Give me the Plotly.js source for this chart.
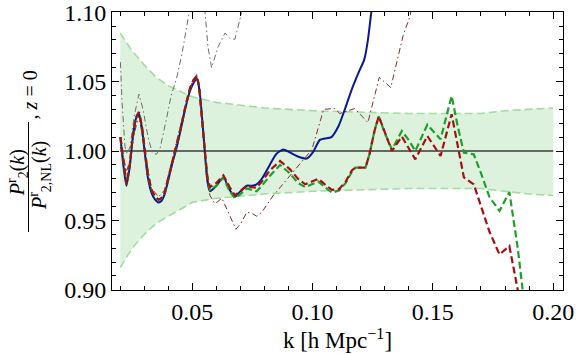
<!DOCTYPE html>
<html>
<head>
<meta charset="utf-8">
<script src="https://cdn.plot.ly/plotly-3.0.1.min.js"></script>
<style>
  html, body { margin: 0; padding: 0; background: #fff; }
  #visualisation { width: 576px; height: 354px; }
</style>
</head>
<body>
<div id='visualisation'></div>
<script>
// tick labels
const xTicks = [0.05, 0.10, 0.15, 0.20]
const yTicks = [0.90, 0.95, 1.00, 1.05, 1.10]

// error band (light green)
const kBand = [0.020, 0.025, 0.030, 0.035, 0.040, 0.050, 0.060, 0.080, 0.100, 0.120, 0.140, 0.160, 0.170, 0.180, 0.190, 0.200]
const bandUpper = [1.085, 1.072, 1.062, 1.053, 1.047, 1.039, 1.035, 1.031, 1.029, 1.028, 1.027, 1.027, 1.027, 1.029, 1.030, 1.031]
const bandLower = [0.916, 0.930, 0.940, 0.948, 0.953, 0.963, 0.966, 0.969, 0.971, 0.972, 0.973, 0.973, 0.973, 0.971, 0.969, 0.968]

// red and green dashed curves share one k grid
const kMain = [
  0.0201, 0.0213, 0.0226, 0.0240, 0.0252, 0.0265, 0.0278, 0.0290, 0.0302, 0.0315,
  0.0330, 0.0345, 0.0360, 0.0371, 0.0385, 0.0400, 0.0415, 0.0434, 0.0450, 0.0470,
  0.0490, 0.0505, 0.0518, 0.0528, 0.0540, 0.0552, 0.0562, 0.0573, 0.0600, 0.0629,
  0.0655, 0.0677, 0.0700, 0.0726, 0.0748, 0.0767, 0.0789, 0.0822, 0.0865, 0.0905,
  0.0939, 0.0969, 0.0997, 0.1024, 0.1051, 0.1080, 0.1109, 0.1138, 0.1163, 0.1178,
  0.1200, 0.1220, 0.1237, 0.1258, 0.1275, 0.1300, 0.1330, 0.1371, 0.1399, 0.1427,
  0.1477, 0.1532, 0.1578, 0.1603, 0.1629, 0.1670, 0.1700, 0.1735, 0.1777, 0.1818,
  0.1853, 0.1870, 0.1890
]
const redDashed = [
  1.010, 0.992, 0.976, 0.990, 1.010, 1.024, 1.028, 1.018, 1.000, 0.983,
  0.972, 0.967, 0.965, 0.966, 0.970, 0.980, 0.991, 1.003, 1.015, 1.031,
  1.045, 1.051, 1.054, 1.047, 1.026, 1.000, 0.982, 0.974, 0.977, 0.9825,
  0.974, 0.968, 0.971, 0.975, 0.974, 0.9736, 0.978, 0.986, 0.9928, 0.987,
  0.980, 0.976, 0.978, 0.980, 0.976, 0.972, 0.9724, 0.978, 0.986, 0.988,
  0.988, 0.988, 0.998, 1.015, 1.025, 1.013, 1.000, 1.0104, 1.002, 0.994,
  1.0108, 0.9964, 1.0265, 1.005, 0.981, 0.976, 0.960, 0.942, 0.9255, 0.9315,
  0.900, 0.880, 0.860
]
const greenDashed = [
  1.010, 0.992, 0.976, 0.990, 1.010, 1.024, 1.028, 1.018, 1.000, 0.983,
  0.972, 0.967, 0.965, 0.966, 0.970, 0.980, 0.991, 1.003, 1.015, 1.031,
  1.045, 1.051, 1.054, 1.047, 1.026, 1.000, 0.981, 0.972, 0.975, 0.981,
  0.971, 0.966, 0.969, 0.973, 0.972, 0.971, 0.975, 0.982, 0.9899, 0.984,
  0.977, 0.974, 0.976, 0.978, 0.974, 0.970, 0.9715, 0.977, 0.985, 0.988,
  0.988, 0.988, 0.998, 1.015, 1.025, 1.013, 1.001, 1.0144, 1.008, 1.000,
  1.019, 1.0084, 1.0397, 1.018, 0.9988, 0.9976, 0.984, 0.967, 0.9568, 0.9705,
  0.930, 0.906, 0.875
]

// blue solid curve
const kBlue = [
  0.0201, 0.0213, 0.0226, 0.0240, 0.0252, 0.0265, 0.0278, 0.0290, 0.0302, 0.0315,
  0.0330, 0.0345, 0.0360, 0.0371, 0.0385, 0.0400, 0.0415, 0.0434, 0.0450, 0.0470,
  0.0490, 0.0505, 0.0518, 0.0528, 0.0540, 0.0552, 0.0562, 0.0573, 0.0600, 0.0629,
  0.0655, 0.0677, 0.0700, 0.0726, 0.0748, 0.0767, 0.0789, 0.0822, 0.0850, 0.0878,
  0.0905, 0.0939, 0.0975, 0.1001, 0.1030, 0.1051, 0.1078, 0.1108, 0.1130, 0.1160,
  0.1190, 0.1215, 0.1230, 0.1244, 0.1255
]
const blueSolid = [
  1.010, 0.990, 0.975, 0.989, 1.009, 1.023, 1.027, 1.017, 0.999, 0.981,
  0.970, 0.965, 0.963, 0.964, 0.969, 0.979, 0.990, 1.002, 1.014, 1.030,
  1.043, 1.049, 1.052, 1.046, 1.025, 0.999, 0.979, 0.971, 0.975, 0.981,
  0.972, 0.967, 0.971, 0.975, 0.975, 0.976, 0.980, 0.990, 0.998, 1.001,
  0.999, 0.996, 0.9945, 0.999, 1.008, 1.009, 1.010, 1.018, 1.028, 1.043,
  1.056, 1.066, 1.080, 1.100, 1.115
]

// thin grey dash-dot curve
const kGray = [
  0.0201, 0.0208, 0.0220, 0.0229, 0.0241, 0.0258, 0.0278, 0.0295, 0.0316, 0.0333,
  0.0351, 0.0366, 0.0391, 0.0412, 0.0434, 0.0457, 0.0482, 0.0499, 0.0524, 0.0549,
  0.0565, 0.0580, 0.0607, 0.0636, 0.0656, 0.0677, 0.0705, 0.0723
]
const grayDashDot = [
  1.064, 1.035, 1.003, 0.998, 1.003, 1.025, 1.041, 1.030, 1.010, 0.999,
  0.9976, 1.002, 1.022, 1.040, 1.052, 1.070, 1.095, 1.112, 1.120, 1.108,
  1.075, 1.060, 1.075, 1.085, 1.081, 1.0805, 1.0997, 1.115
]

// thin dark red dash-dot curve
const kMaroon = [
  0.0201, 0.0215, 0.0226, 0.0240, 0.0252, 0.0278, 0.0302, 0.0330, 0.0360, 0.0385,
  0.0415, 0.0450, 0.0490, 0.0518, 0.0540, 0.0555, 0.0573, 0.0594, 0.0623, 0.0652,
  0.0681, 0.0702, 0.0727, 0.0748, 0.0768, 0.0789, 0.0835, 0.0905, 0.0975, 0.0997,
  0.1046, 0.1092, 0.1113, 0.1175, 0.1230, 0.1277, 0.1325, 0.1376, 0.1405, 0.1425
]
const maroonDashDot = [
  1.003, 0.995, 0.985, 0.993, 1.008, 1.026, 1.000, 0.973, 0.967, 0.972,
  0.993, 1.017, 1.046, 1.055, 1.028, 0.995, 0.968, 0.962, 0.966, 0.955,
  0.9436, 0.948, 0.956, 0.955, 0.953, 0.956, 0.9676, 0.982, 0.9967, 1.001,
  1.030, 1.0306, 1.027, 1.0306, 1.0205, 1.053, 1.0457, 1.083, 1.097, 1.115
]

const serif = 'Liberation Serif, Times New Roman, serif'

const traces = [
  {
    x: kBand, y: bandLower, type: 'scatter', mode: 'lines',
    line: { color: 'rgb(165, 218, 165)', width: 1.6, dash: '8px,4px' },
  },
  {
    x: kBand, y: bandUpper, type: 'scatter', mode: 'lines', fill: 'tonexty',
    fillcolor: 'rgba(120, 205, 120, 0.25)',
    line: { color: 'rgb(165, 218, 165)', width: 1.6, dash: '8px,4px' },
  },
  {
    x: [kBand[0], kBand[kBand.length - 1]], y: [1, 1], type: 'scatter', mode: 'lines',
    line: { color: '#3a3a3a', width: 1.3 },
  },
  {
    x: kGray, y: grayDashDot, type: 'scatter', mode: 'lines',
    line: { color: 'rgb(110, 110, 110)', width: 1, dash: '6px,3px,1.5px,3px' },
  },
  {
    x: kMaroon, y: maroonDashDot, type: 'scatter', mode: 'lines',
    line: { color: 'rgb(140, 40, 50)', width: 1, dash: '6px,3px,1.5px,3px' },
  },
  {
    x: kBlue, y: blueSolid, type: 'scatter', mode: 'lines',
    line: { color: 'rgb(10, 25, 145)', width: 2, shape: 'spline', smoothing: 0.6 },
  },
  {
    x: kMain, y: greenDashed, type: 'scatter', mode: 'lines',
    line: { color: 'rgb(30, 160, 40)', width: 2.2, dash: '7px,3.5px' },
  },
  {
    x: kMain, y: redDashed, type: 'scatter', mode: 'lines',
    line: { color: 'rgb(165, 15, 20)', width: 2.2, dash: '7px,3.5px' },
  },
]

const axisCommon = {
  showline: true,
  linecolor: 'black',
  linewidth: 1,
  mirror: 'ticks',
  ticks: 'inside',
  ticklen: 7,
  tickcolor: 'black',
  showgrid: false,
  zeroline: false,
  tickmode: 'array',
  ticklabeloverflow: 'allow',
  tickfont: { family: serif, size: 24, color: 'black' },
}

const fmt = v => v.toFixed(2)

// y title pieces, rotated
const yTitlePart = (text, y, xshift) => ({
  xref: 'paper', yref: 'paper', x: 0, y: y, xshift: xshift,
  xanchor: 'center', yanchor: 'middle', showarrow: false, textangle: -90,
  text: text,
  font: { family: serif, size: 20, color: 'black' },
})

const layout = {
  width: 576,
  height: 354,
  showlegend: false,
  paper_bgcolor: 'white',
  plot_bgcolor: 'white',
  margin: { l: 112, r: 13, t: 12, b: 64 },
  xaxis: Object.assign({}, axisCommon, {
    range: [0.0166, 0.2041],
    tickvals: xTicks,
    ticktext: xTicks.map(fmt),
    minor: { ticks: 'inside', tick0: 0, dtick: 0.01, ticklen: 4, tickcolor: 'black' },
    title: { text: 'k [h Mpc<sup>−1</sup>]', font: { family: serif, size: 23, color: 'black' }, standoff: 4 },
  }),
  yaxis: Object.assign({}, axisCommon, {
    range: [0.8999, 1.1001],
    tickvals: yTicks,
    ticktext: yTicks.map(fmt),
    minor: { ticks: 'inside', tick0: 0, dtick: 0.01, ticklen: 4, tickcolor: 'black' },
  }),
  annotations: [
    yTitlePart('<i>P</i><sup>r</sup><sub>2</sub>(<i>k</i>)', 0.42, -94),
    yTitlePart('<i>P</i><sup>r</sup><sub>2,NL</sub>(<i>k</i>)', 0.41, -72),
    yTitlePart(', <i>z</i> = 0', 0.70, -82),
    // fraction bar
    {
      xref: 'paper', yref: 'paper', x: 0, y: 0.405, xshift: -84,
      xanchor: 'center', yanchor: 'middle', showarrow: false,
      text: '', width: 1, height: 110, bgcolor: 'black', borderpad: 0, borderwidth: 0,
    },
  ],
}

Plotly.newPlot('visualisation', traces, layout, { staticPlot: true })
</script>
</body>
</html>
